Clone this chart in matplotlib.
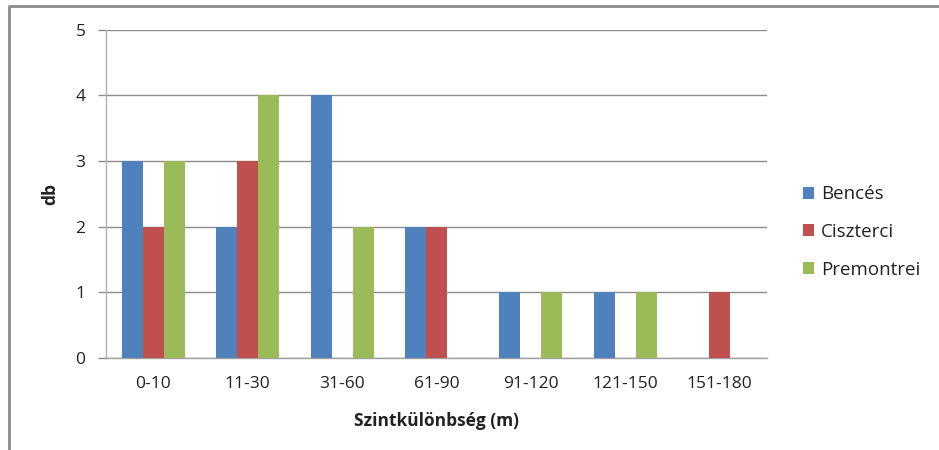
import matplotlib
matplotlib.use("Agg")
import matplotlib.pyplot as plt
from matplotlib.lines import Line2D
from matplotlib.patches import Patch
import numpy as np

categories = ["0-10", "11-30", "31-60", "61-90", "91-120", "121-150", "151-180"]
bences = [3, 2, 4, 2, 1, 1, 0]
ciszterci = [2, 3, 0, 2, 0, 0, 1]
premontrei = [3, 4, 2, 0, 1, 1, 0]
series_names = ["Bencés", "Ciszterci", "Premontrei"]
colors = ["#4F81BD", "#C0504D", "#9BBB59"]

plt.rcParams['font.family'] = ['Open Sans', 'DejaVu Sans']

W, H = 939, 450
fig = plt.figure(figsize=(W / 100, H / 100), dpi=100)
ax = fig.add_axes([106 / W, 1 - 358 / H, (767 - 106) / W, (358 - 29.5) / H])

x = np.arange(len(categories))
bw = 1 / 4.5
for i, (vals, c) in enumerate(zip([bences, ciszterci, premontrei], colors)):
    ax.bar(x + (i - 1) * bw, vals, width=bw, color=c, zorder=3)

ax.set_xlim(-0.5, len(categories) - 0.5)
ax.set_ylim(0, 5)
ax.set_yticks(range(6))
ax.set_xticks(x)
ax.set_xticklabels(categories, fontsize=12.5, color="#222222")
ax.tick_params(axis='x', length=0, pad=13)
ax.tick_params(axis='y', length=5.8, width=1, color="#8c8c8c", labelsize=12.5,
               labelcolor="#222222", pad=9)
ax.yaxis.grid(True, color="#8c8c8c", linewidth=1, zorder=0)
for s in ["top", "right"]:
    ax.spines[s].set_visible(False)
ax.spines["left"].set_color("#b0b0b0")
ax.spines["bottom"].set_color("#a0a0a0")
ax.spines["left"].set_linewidth(1)
ax.spines["bottom"].set_linewidth(1)

ax.set_xlabel("Szintkülönbség (m)", fontsize=12.5, fontweight="bold", labelpad=14, color="#222222")
ax.set_ylabel("db", fontsize=12.5, fontweight="bold", labelpad=12, color="#222222")

handles = [Patch(facecolor=c, edgecolor="none") for c in colors]
fig.legend(handles, series_names, loc="center left", bbox_to_anchor=(786 / W, 1 - 232 / H),
           frameon=False, fontsize=13.5, handlelength=0.6, handleheight=0.6,
           handletextpad=0.35, labelspacing=1.05, labelcolor="#222222")

fig.add_artist(Line2D([9 / W, 9 / W, 1.0], [0, 1 - 6 / H, 1 - 6 / H],
                      transform=fig.transFigure, color="#8a8a8a", linewidth=2))

fig.savefig("out.png", dpi=100)
